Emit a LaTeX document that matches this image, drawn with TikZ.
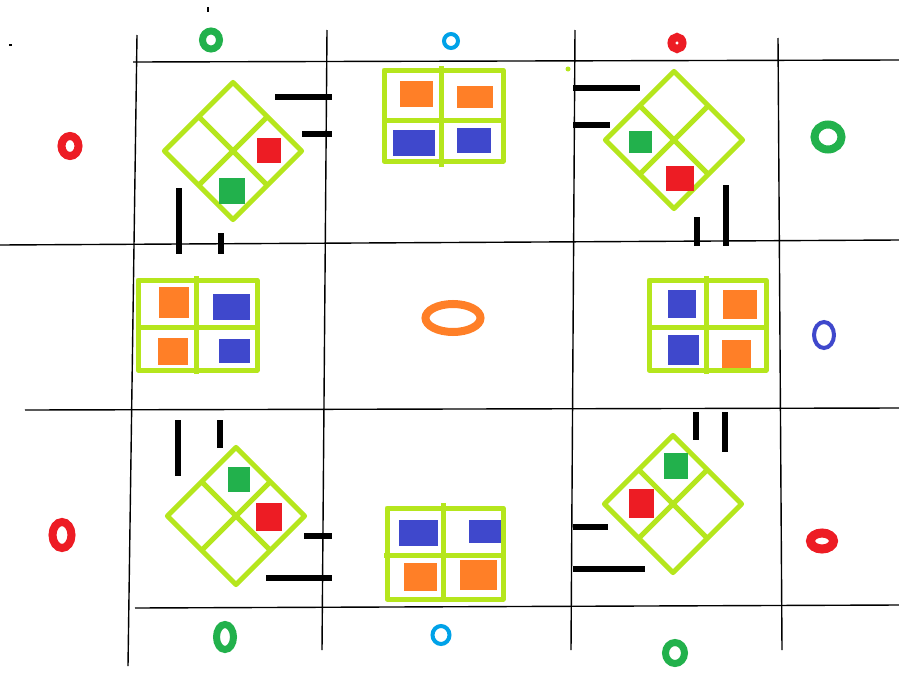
\documentclass[tikz,border=0pt]{standalone}
\usepackage{xcolor}
\usepackage{tikz}
\usetikzlibrary{shapes.geometric}
\definecolor{paintlime}{RGB}{181,230,29}
\definecolor{paintred}{RGB}{237,28,36}
\definecolor{paintgreen}{RGB}{34,177,76}
\definecolor{paintorange}{RGB}{255,127,39}
\definecolor{paintblue}{RGB}{63,72,204}
\definecolor{paintsky}{RGB}{0,162,232}

\begin{document}
\begin{tikzpicture}[x=1pt,y=-1pt,
  gridln/.style={line width=1.4pt,black},
  cellgrid/.style={line width=5pt,paintlime,line join=round},
  tile/.style={rectangle,inner sep=0pt,draw=none},
  ring/.style={ellipse,draw,inner sep=0pt,line width=7pt},
  bar/.style={line width=6pt,black}
]
\useasboundingbox[fill=white] (0,0) rectangle (899,680);

% hand-drawn grid
\draw[gridln] (137,35) -- (128,666);
\draw[gridln] (327,30) -- (322,650);
\draw[gridln] (575,30) -- (571,650);
\draw[gridln] (778,38) -- (782,650);
\draw[gridln] (133,62) -- (899,60);
\draw[gridln] (0,245) -- (899,240);
\draw[gridln] (25,410) -- (899,408);
\draw[gridln] (135,608) -- (899,605);

% stray marks
\fill (207,7) rectangle (209,12);
\fill (9,44) rectangle (12,46);
\fill[paintlime] (568,69) circle (2.5);

% diamonds
\begin{scope}[shift={(233,151)},rotate=45]
  \draw[cellgrid] (-48.5,-48.5) rectangle (48.5,48.5) (-48.5,0) -- (48.5,0) (0,-48.5) -- (0,48.5);
\end{scope}
\begin{scope}[shift={(674,140)},rotate=45]
  \draw[cellgrid] (-48.5,-48.5) rectangle (48.5,48.5) (-48.5,0) -- (48.5,0) (0,-48.5) -- (0,48.5);
\end{scope}
\begin{scope}[shift={(236,516)},rotate=45]
  \draw[cellgrid] (-48.5,-48.5) rectangle (48.5,48.5) (-48.5,0) -- (48.5,0) (0,-48.5) -- (0,48.5);
\end{scope}
\begin{scope}[shift={(673,504)},rotate=45]
  \draw[cellgrid] (-48.5,-48.5) rectangle (48.5,48.5) (-48.5,0) -- (48.5,0) (0,-48.5) -- (0,48.5);
\end{scope}

\node[tile,fill=paintred,minimum width=24pt,minimum height=25pt] (nwred) at (269,150) {};
\node[tile,fill=paintgreen,minimum width=26pt,minimum height=26pt] (nwgreen) at (232,191) {};
\node[tile,fill=paintgreen,minimum width=23pt,minimum height=22pt] (negreen) at (640,142) {};
\node[tile,fill=paintred,minimum width=28pt,minimum height=25pt] (nered) at (680,178) {};
\node[tile,fill=paintgreen,minimum width=22pt,minimum height=25pt] (swgreen) at (239,479) {};
\node[tile,fill=paintred,minimum width=26pt,minimum height=28pt] (swred) at (269,517) {};
\node[tile,fill=paintgreen,minimum width=24pt,minimum height=26pt] (segreen) at (676,466) {};
\node[tile,fill=paintred,minimum width=25pt,minimum height=29pt] (sered) at (641,503) {};

% boxes
\draw[cellgrid] (384,70) rectangle (503,161) (384,120) -- (503,120) (441,66) -- (441,167);
\draw[cellgrid] (138,280) rectangle (257,370) (136,327) -- (257,327) (196,276) -- (196,374);
\draw[cellgrid] (649,280) rectangle (766,370) (647,327) -- (766,327) (706,276) -- (706,374);
\draw[cellgrid] (387,508) rectangle (503,599) (384,555) -- (503,555) (443,503) -- (443,602);

\node[tile,fill=paintorange,minimum width=33pt,minimum height=26pt] (ntl) at (416,94) {};
\node[tile,fill=paintorange,minimum width=36pt,minimum height=22pt] (ntr) at (475,97) {};
\node[tile,fill=paintblue,minimum width=42pt,minimum height=26pt] (nbl) at (414,143) {};
\node[tile,fill=paintblue,minimum width=34pt,minimum height=25pt] (nbr) at (474,140) {};

\node[tile,fill=paintorange,minimum width=30pt,minimum height=31pt] (wtl) at (174,302) {};
\node[tile,fill=paintblue,minimum width=37pt,minimum height=26pt] (wtr) at (231,307) {};
\node[tile,fill=paintorange,minimum width=30pt,minimum height=27pt] (wbl) at (173,351) {};
\node[tile,fill=paintblue,minimum width=31pt,minimum height=24pt] (wbr) at (234,351) {};

\node[tile,fill=paintblue,minimum width=28pt,minimum height=28pt] (etl) at (682,304) {};
\node[tile,fill=paintorange,minimum width=34pt,minimum height=29pt] (etr) at (740,304) {};
\node[tile,fill=paintblue,minimum width=31pt,minimum height=30pt] (ebl) at (683,350) {};
\node[tile,fill=paintorange,minimum width=29pt,minimum height=28pt] (ebr) at (736,354) {};

\node[tile,fill=paintblue,minimum width=39pt,minimum height=26pt] (stl) at (418,533) {};
\node[tile,fill=paintblue,minimum width=32pt,minimum height=23pt] (str) at (485,531) {};
\node[tile,fill=paintorange,minimum width=33pt,minimum height=28pt] (sbl) at (420,577) {};
\node[tile,fill=paintorange,minimum width=37pt,minimum height=30pt] (sbr) at (478,575) {};

% black bars
\draw[bar] (275,97) -- (332,97);
\draw[bar] (302,134) -- (332,134);
\draw[bar] (179,188) -- (179,254);
\draw[bar] (221,233) -- (221,254);
\draw[bar] (573,88) -- (640,88);
\draw[bar] (573,125) -- (610,125);
\draw[bar] (697,217) -- (697,246);
\draw[bar] (726,185) -- (726,246);
\draw[bar] (178,420) -- (178,476);
\draw[bar] (220,420) -- (220,448);
\draw[bar] (304,536) -- (332,536);
\draw[bar] (266,578) -- (332,578);
\draw[bar] (696,412) -- (696,440);
\draw[bar] (725,412) -- (725,452);
\draw[bar] (573,527) -- (608,527);
\draw[bar] (573,569) -- (645,569);

% rings
\node[ring,draw=paintgreen,minimum width=17pt,minimum height=18pt] (topgreen) at (211,40) {};
\node[ring,draw=paintsky,line width=4pt,minimum width=14pt,minimum height=14pt] (topsky) at (451,41) {};
\node[ring,draw=paintred,line width=8pt,minimum width=11pt,minimum height=12pt] (topred) at (677,43) {};
\node[ring,draw=paintred,line width=8pt,minimum width=17pt,minimum height=20pt] (leftred) at (70,146) {};
\node[ring,draw=paintgreen,line width=8pt,minimum width=27pt,minimum height=25pt] (rightgreen) at (828,137) {};
\node[ring,draw=paintorange,line width=8pt,minimum width=55pt,minimum height=28pt] (midorange) at (453,318) {};
\node[ring,draw=paintblue,line width=4pt,minimum width=20pt,minimum height=26pt] (rightblue) at (824,335) {};
\node[ring,draw=paintred,line width=8pt,minimum width=19pt,minimum height=26pt] (lowleftred) at (62,535) {};
\node[ring,draw=paintred,line width=9pt,minimum width=23pt,minimum height=16pt] (lowrightred) at (822,541) {};
\node[ring,draw=paintgreen,minimum width=17pt,minimum height=25pt] (botgreen) at (225,637) {};
\node[ring,draw=paintsky,line width=4pt,minimum width=17pt,minimum height=18pt] (botsky) at (441,635) {};
\node[ring,draw=paintgreen,minimum width=19pt,minimum height=21pt] (botgreentwo) at (675,653) {};
\end{tikzpicture}
\end{document}
